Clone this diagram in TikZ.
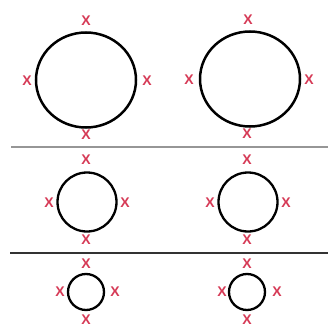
\documentclass[tikz,border=0pt]{standalone}
\usepackage{fontspec}
\setmainfont{Liberation Sans}
\usetikzlibrary{shapes.geometric}
\definecolor{xred}{RGB}{214,58,86}
\definecolor{linegray}{RGB}{150,150,150}
\begin{document}
\begin{tikzpicture}[x=1pt,y=-1pt,
  mark x/.style={text=xred,font=\bfseries\fontsize{14}{14}\selectfont,inner sep=0pt},
  ring/.style={draw=black,line width=2.5pt,ellipse,inner sep=0pt},
  divider/.style={draw=linegray,line width=2.5pt}]
\useasboundingbox[fill=white] (0,0) rectangle (328,329);
% top row
\node[ring,minimum width=100pt,minimum height=95pt] (c1) at (86,80) {};
\node[ring,minimum width=100pt,minimum height=95pt] (c2) at (250,79) {};
\node[mark x] (c1t) at (86,21) {X};
\node[mark x] (c1l) at (27,81) {X};
\node[mark x] (c1r) at (147,81) {X};
\node[mark x] (c1b) at (86,135) {X};
\node[mark x] (c2t) at (248,20) {X};
\node[mark x] (c2l) at (189,80) {X};
\node[mark x] (c2r) at (309,80) {X};
\node[mark x] (c2b) at (247,134) {X};
% divider 1
\coordinate (d1a) at (11,147);
\coordinate (d1b) at (328,147);
\draw[divider] (d1a) -- (d1b);
% middle row
\node[ring,line width=2.3pt,minimum size=59pt] (m1) at (87,202) {};
\node[ring,line width=2.3pt,minimum size=59pt] (m2) at (248,202) {};
\node[mark x] (m1t) at (86,160) {X};
\node[mark x] (m1l) at (49,203) {X};
\node[mark x] (m1r) at (125,203) {X};
\node[mark x] (m1b) at (86,240) {X};
\node[mark x] (m2t) at (247,160) {X};
\node[mark x] (m2l) at (210,203) {X};
\node[mark x] (m2r) at (286,203) {X};
\node[mark x] (m2b) at (247,240) {X};
% divider 2
\coordinate (d2a) at (10,253);
\coordinate (d2b) at (328,253);
\draw[draw=black!80,line width=1.2pt] (d2a) -- (d2b);
% bottom row
\node[ring,line width=2.3pt,minimum size=36pt] (s1) at (86,292) {};
\node[ring,line width=2.3pt,minimum size=36pt] (s2) at (247,292) {};
\node[mark x] (s1t) at (86,264) {X};
\node[mark x] (s1l) at (60,292) {X};
\node[mark x] (s1r) at (115,292) {X};
\node[mark x] (s1b) at (86,320) {X};
\node[mark x] (s2t) at (247,264) {X};
\node[mark x] (s2l) at (222,292) {X};
\node[mark x] (s2r) at (277,292) {X};
\node[mark x] (s2b) at (247,320) {X};
\end{tikzpicture}
\end{document}
